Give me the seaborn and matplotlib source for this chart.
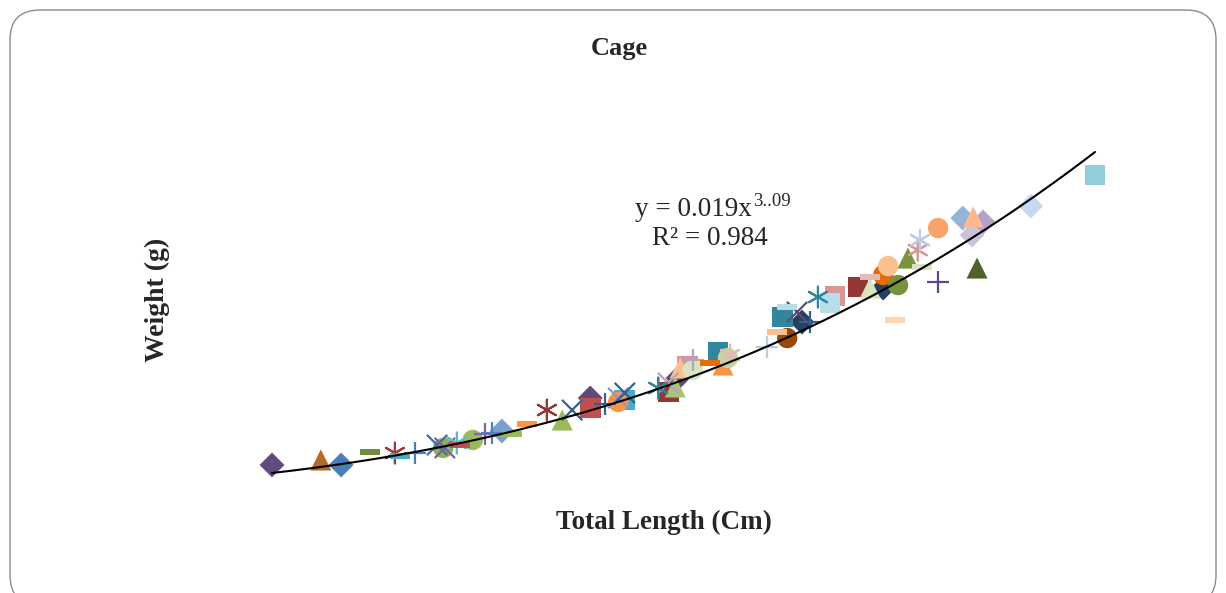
import matplotlib
matplotlib.use("Agg")
import matplotlib.pyplot as plt
from matplotlib.patches import FancyBboxPatch
import numpy as np
import pandas as pd
import seaborn as sns

# Total length (cm) and weight (g) of each fish, one Excel series per fish
length_cm = [10.00, 10.89, 11.26, 11.79, 12.24, 12.33, 12.61, 13.01, 13.12, 13.15,
             13.37, 13.43, 13.66, 13.88, 14.01, 14.19, 14.37, 14.65, 15.01, 15.29,
             15.47, 15.80, 15.80, 16.07, 16.31, 16.31, 16.43, 16.43, 17.04, 17.22,
             17.22, 17.35, 17.40, 17.44, 17.58, 17.67, 17.67, 17.98, 18.13, 18.22,
             18.31, 18.35, 19.02, 19.20, 19.39, 19.30, 19.39, 19.57, 19.66, 19.81,
             19.95, 20.26, 20.17, 20.68, 20.90, 20.90, 21.14, 21.14, 21.41, 21.35,
             21.23, 21.59, 21.77, 21.81, 21.85, 22.14, 22.14, 22.59, 22.78, 22.96,
             22.76, 22.85, 23.83, 25.00]
weight_g = [32.7, 38.5, 32.7, 47.8, 46.6, 43.2, 46.6, 55.9, 52.5, 52.5,
            58.3, 55.9, 61.8, 68.7, 69.9, 72.2, 68.7, 80.4, 96.6, 85.0,
            96.6, 110.6, 99.0, 103.6, 105.9, 110.6, 108.3, 116.4, 122.2, 117.6,
            128.0, 123.4, 133.8, 145.5, 147.8, 154.7, 143.1, 151.3, 164.1, 148.9,
            157.1, 160.6, 169.9, 187.3, 180.3, 204.7, 216.4, 210.5, 198.9, 198.9,
            228.0, 229.1, 221.0, 239.6, 251.2, 238.4, 238.4, 253.6, 241.9, 201.2,
            264.0, 273.3, 282.6, 294.2, 262.9, 308.2, 245.4, 319.8, 321.0, 315.2,
            300.1, 261.7, 333.8, 369.8]
marker_kind = ["D", "^", "D", "_", "*", "_", "+", "x", "o", "x",
               "*", "_", "o", "+", "+", "D", "_", "_", "*", "^",
               "x", "D", "s", "+", "o", "x", "s", "x", "*", "s",
               "x", "^", "D", "^", "s", "+", "o", "_", "s", "^",
               "o", "*", "+", "_", "o", "s", "_", "x", "D", "+",
               "*", "s", "s", "s", "_", "^", "D", "o", "o", "_",
               "o", "^", "*", "*", "_", "o", "+", "D", "^", "D",
               "D", "^", "D", "s"]
marker_color = ["#5f4b7e", "#b5692a", "#4a7ebb", "#6e8c37", "#a33a3a", "#4bacc6", "#4a7ebb", "#3f6fa8", "#8fb050", "#7d5fa3",
                "#5bb8d0", "#c0504d", "#9bbb59", "#8064a2", "#4f81bd", "#7b9fd0", "#9bbb59", "#f79646", "#953735", "#9bbb59",
                "#376092", "#604a7b", "#c0504d", "#376092", "#f79646", "#a08cc0", "#4bacc6", "#376092", "#31859c", "#953735",
                "#b3a2c7", "#a8c47a", "#604a7b", "#fac090", "#d99694", "#b3a2c7", "#d7e4bd", "#e46c0a", "#31859c", "#f79646",
                "#c3d69b", "#e6b9b8", "#b9cde5", "#fac090", "#984807", "#31859c", "#b7dee8", "#604a7b", "#254061", "#376092",
                "#31859c", "#d99694", "#b7dee8", "#953735", "#e6b9b8", "#d7e4bd", "#254061", "#e46c0a", "#77933c", "#fcd5b5",
                "#fac090", "#77933c", "#d99694", "#b9cde5", "#d7e4bd", "#f7a46b", "#604a7b", "#95b3d7", "#fab98f", "#b3a2c7",
                "#ccc1da", "#4f6228", "#c6d9f1", "#93cddd"]

# power trendline shown on the chart
coef_a = 0.019
coef_b = 3.09

df = pd.DataFrame({"length": length_cm, "weight": weight_g,
                   "kind": marker_kind, "color": marker_color})

sns.set_style("white")
plt.rcParams["font.family"] = ["Liberation Serif", "DejaVu Serif"]

W, H = 1226, 593
fig = plt.figure(figsize=(W / 100, H / 100), dpi=100)
ax = fig.add_axes([0, 0, 1, 1])

# marker size (pt^2) and line width per marker kind
msize = {"D": 160, "s": 225, "^": 230, "o": 215, "x": 215, "+": 240, "*": 225, "_": 215}
mwidth = {"D": 0, "s": 0, "^": 0, "o": 0, "x": 1.6, "+": 1.6, "*": 1.5, "_": 4.3}
mshape = {"*": (6, 2, 0)}

for kind in ["D", "s", "^", "o", "x", "+", "*", "_"]:
    sub = df[df["kind"] == kind]
    pal = {c: c for c in sub["color"].unique()}
    kw = dict(linewidth=0) if mwidth[kind] == 0 else dict(linewidths=mwidth[kind])
    sns.scatterplot(data=sub, x="length", y="weight", hue="color", palette=pal,
                    marker=mshape.get(kind, kind), s=msize[kind], legend=False,
                    ax=ax, zorder=2, **kw)

xfit = np.linspace(min(length_cm), max(length_cm), 200)
sns.lineplot(x=xfit, y=coef_a * xfit ** coef_b, color="black", linewidth=1.5,
             ax=ax, zorder=4)

# map data to the picture: 10 cm -> px 272, 25 cm -> px 1095
px_per_cm = 823 / 15.0
g_per_px = (coef_a * 25 ** coef_b - coef_a * 10 ** coef_b) / 321.0
y10 = coef_a * 10 ** coef_b
ax.set_xlim(10 - 272 / px_per_cm, 10 + (W - 272) / px_per_cm)
ax.set_ylim(y10 - (H - 473) * g_per_px, y10 + 473 * g_per_px)
ax.axis("off")


def px(x, y):
    return x / W, 1 - y / H


fig.text(*px(619, 48), "Cage", ha="center", va="center", fontsize=19, fontweight="bold")
fig.text(*px(664, 522), "Total Length (Cm)", ha="center", va="center", fontsize=19.5,
         fontweight="bold")
fig.text(*px(157, 300), "Weight (g)", ha="center", va="center", fontsize=20,
         fontweight="bold", rotation=90)
fig.text(*px(752, 209), "y = 0.019x", ha="right", va="center", fontsize=19.5)
fig.text(*px(753, 201), "3..09", ha="left", va="center", fontsize=13.5)
fig.text(*px(710, 238), "R² = 0.984", ha="center", va="center", fontsize=19.5)

# rounded chart border (bottom edge runs off the picture)
border = FancyBboxPatch((0.10, -0.12), 12.06, 5.95, boxstyle="round,pad=0,rounding_size=0.3",
                        transform=fig.dpi_scale_trans, fill=False, edgecolor="#8c8c8c",
                        linewidth=1.0)
fig.patches.append(border)

fig.savefig("out.png", dpi=100)
